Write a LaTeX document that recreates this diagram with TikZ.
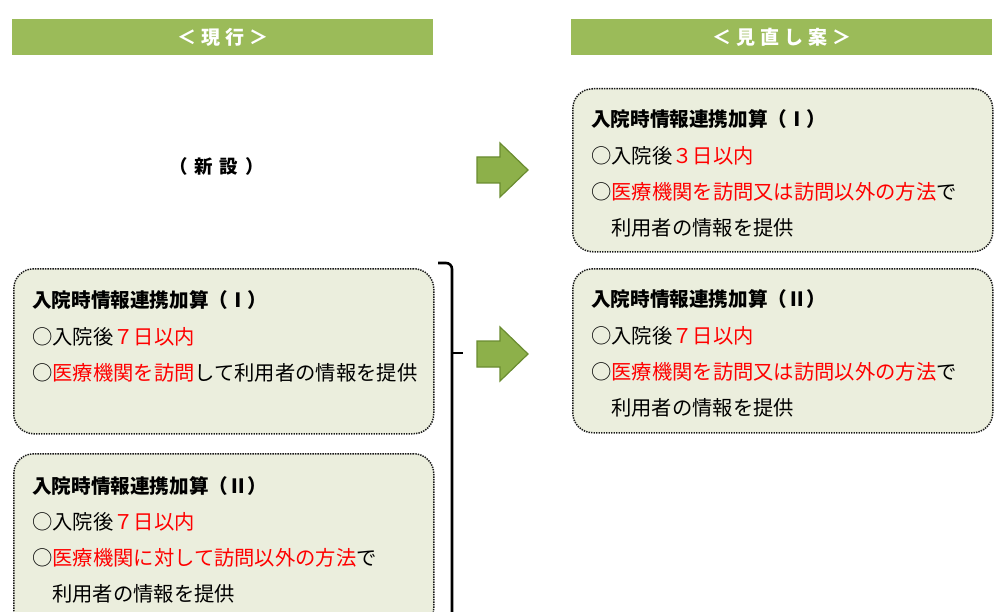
\documentclass[tikz,border=0pt]{standalone}
\usepackage{fontspec}
\newfontfamily\jp{Noto Sans CJK JP}
\definecolor{hdrgreen}{HTML}{9BBB59}
\definecolor{boxfill}{HTML}{EBEEDD}
\definecolor{arrfill}{HTML}{8DB04A}
\definecolor{arrline}{HTML}{6A8C30}
\definecolor{jred}{HTML}{FF0000}
\begin{document}
\begin{tikzpicture}[x=1pt,y=-1pt,
  hdr/.style={fill=hdrgreen, draw=none, minimum width=421pt, minimum height=36pt, inner sep=0pt, anchor=north west, text=white, font=\jp\bfseries\fontsize{19}{19}\selectfont},
  infobox/.style={fill=boxfill, draw=black!90, line width=1.5pt, dash pattern=on 1.4pt off 1.1pt, rounded corners=20pt, minimum width=420pt, inner sep=0pt, anchor=north west},
  txt/.style={anchor=west, inner sep=0pt, font=\jp\fontsize{20.3}{21}\selectfont, text=black},
  ttl/.style={anchor=west, inner sep=0pt, font=\jp\bfseries\fontsize{19.6}{21}\selectfont, text=black},
  blockarrow/.style={fill=arrfill, draw=arrline, line width=1.2pt, line join=miter},
  bracket/.style={draw=black, line width=2.6pt}
]
\clip (0,0) rectangle (1000,612);
\fill[white] (0,0) rectangle (1000,612);

% headers
\node[hdr] (h1) at (12,19) {＜\hspace{5pt}現\hspace{5pt}行\hspace{5pt}＞};
\node[hdr] (h2) at (571,19) {＜\hspace{5pt}見\hspace{5pt}直\hspace{5pt}し\hspace{5pt}案\hspace{5pt}＞};

% new
\node[anchor=center, inner sep=0pt, font=\jp\bfseries\fontsize{18.5}{18.5}\selectfont] (shinsetsu) at (216.5,166) {（\hspace{7pt}新\hspace{7pt}設\hspace{7pt}）};

% boxes
\node[infobox, minimum height=163pt] (rb1) at (572,88) {};
\node[infobox, minimum height=164pt] (rb2) at (572,268) {};
\node[infobox, minimum height=165pt] (lb1) at (13,268) {};
\node[infobox, minimum height=175pt] (lb2) at (13,453) {};

% right box I
\node[ttl] (rb1t) at (591,119) {入院時情報連携加算（Ⅰ）};
\node[txt] (rb1a) at (591,156) {○入院後\textcolor{jred}{３日以内}};
\node[txt] (rb1b) at (591,192) {○\textcolor{jred}{医療機関を訪問又は訪問以外の方法}で};
\node[txt] (rb1c) at (611,228) {利用者の情報を提供};

% right box II
\node[ttl] (rb2t) at (591,299) {入院時情報連携加算（Ⅱ）};
\node[txt] (rb2a) at (591,336) {○入院後\textcolor{jred}{７日以内}};
\node[txt] (rb2b) at (591,372) {○\textcolor{jred}{医療機関を訪問又は訪問以外の方法}で};
\node[txt] (rb2c) at (611,408) {利用者の情報を提供};

% left box I
\node[ttl] (lb1t) at (32,300) {入院時情報連携加算（Ⅰ）};
\node[txt] (lb1a) at (32,337) {○入院後\textcolor{jred}{７日以内}};
\node[txt] (lb1b) at (32,373) {○\textcolor{jred}{医療機関を訪問}して利用者の情報を提供};

% left box II
\node[ttl] (lb2t) at (32,486) {入院時情報連携加算（Ⅱ）};
\node[txt] (lb2a) at (32,522) {○入院後\textcolor{jred}{７日以内}};
\node[txt] (lb2b) at (32,558) {○\textcolor{jred}{医療機関に対して訪問以外の方法}で};
\node[txt] (lb2c) at (52,594) {利用者の情報を提供};

% block arrows
\draw[blockarrow] (477,157) -- (500,157) -- (500,143) -- (528,170) -- (500,197) -- (500,183) -- (477,183) -- cycle;
\draw[blockarrow] (477,341) -- (500,341) -- (500,327) -- (528,354) -- (500,381) -- (500,367) -- (477,367) -- cycle;

% bracket
\coordinate (bt) at (438,263);
\coordinate (bm) at (452,353);
\coordinate (btick) at (463,353);
\coordinate (bb) at (452,620);
\draw[bracket] (bt) -- (446,263) to[out=0,in=90] (452,269) -- (bb);
\draw[bracket] (bm) -- (btick);
\end{tikzpicture}
\end{document}
